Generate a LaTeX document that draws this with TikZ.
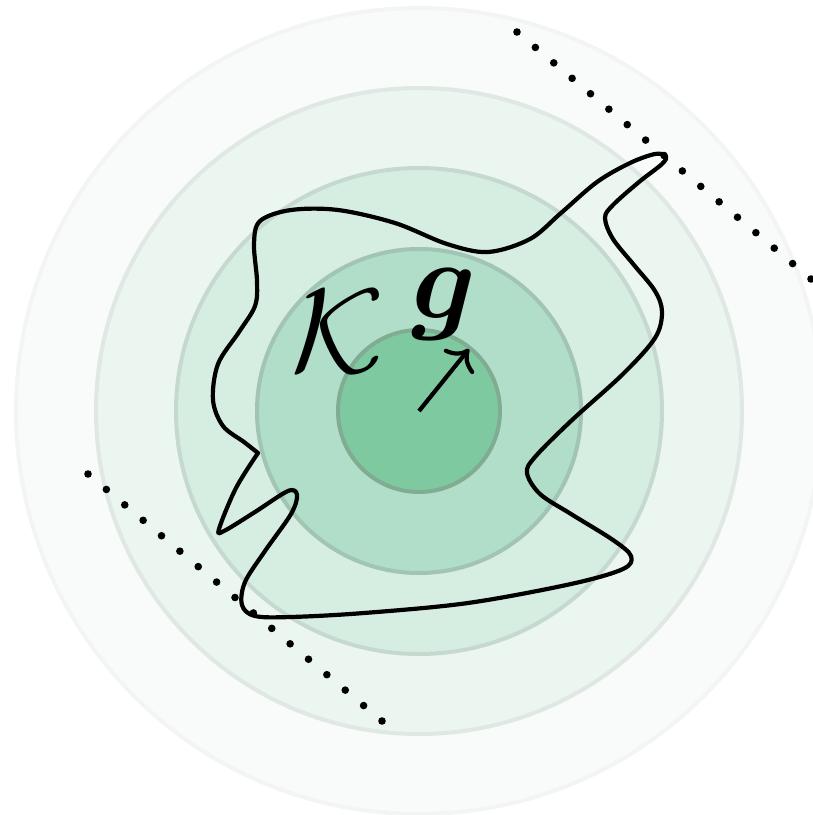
\documentclass[tikz,border=0pt]{standalone}
\usepackage{amsmath}
\usepackage{amssymb}
\usetikzlibrary{arrows.meta}
\definecolor{ringA}{HTML}{7FC9A0}
\definecolor{ringB}{HTML}{B0DEC8}
\definecolor{ringC}{HTML}{D6EDE2}
\definecolor{ringD}{HTML}{ECF6F0}
\definecolor{ringE}{HTML}{F8FBF9}

\begin{document}
\begin{tikzpicture}[x=0.5pt, y=-0.5pt,
  ring/.style={line width=2pt},
  blob/.style={line width=2.1pt, black, line join=round, line cap=round},
  grad/.style={line width=2.1pt, -{Computer Modern Rightarrow[length=9pt, width=19pt]}},
  dotmark/.style={fill=black},
  lbl/.style={inner sep=0pt},
]
\useasboundingbox (0,0) rectangle (813,815);

% concentric sublevel rings, outermost first
\coordinate (o) at (419,411);
\fill[ringE, draw=gray!5!ringE, ring] (o) circle (403);
\fill[ringD, draw=gray!12!ringD, ring] (o) circle (323);
\fill[ringC, draw=gray!18!ringC, ring] (o) circle (243);
\fill[ringB, draw=gray!28!ringB, ring] (o) circle (162);
\fill[ringA, draw=gray!40!ringA, ring] (o) circle (81);

% supporting lines (dotted)
\foreach \i in {0,...,16} {
  \fill[dotmark] (517+18.375*\i, 32+15.4375*\i) circle (1.9pt);
  \fill[dotmark] (88+18.375*\i, 474+15.4375*\i) circle (1.9pt);
}

% the set K
\draw[blob] plot[smooth, tension=0.55] coordinates {
  (258,453) (236,488) (219,529) (224,531) (255,512) (288,491) (297,495)
  (291,514) (265,551) (245,582) (242,605) (255,616) (291,617) (364,613)
  (468,603) (571,584) (623,569) (631,556) (613,540) (571,514) (540,494)
  (527,473) (535,457) (571,421) (623,374) (655,338) (662,312) (655,291)
  (634,265) (613,239) (605,218) (613,205) (639,182) (662,164) (666,156)
  (655,154) (630,163) (597,182) (561,213) (530,239) (488,252) (447,244)
  (395,223) (338,210) (291,210) (260,221) (254,244) (257,281) (255,306)
  (239,332) (218,364) (213,400) (223,426) (244,442) (258,453)};

% labels and gradient
\node[lbl, scale=6] (K) at (338,331) {$\mathcal{K}$};
\node[lbl, scale=5.6] (g) at (444,304) {$\boldsymbol{g}$};
\coordinate (tip) at (469,349);
\draw[grad] (o) -- (tip);

\end{tikzpicture}
\end{document}
